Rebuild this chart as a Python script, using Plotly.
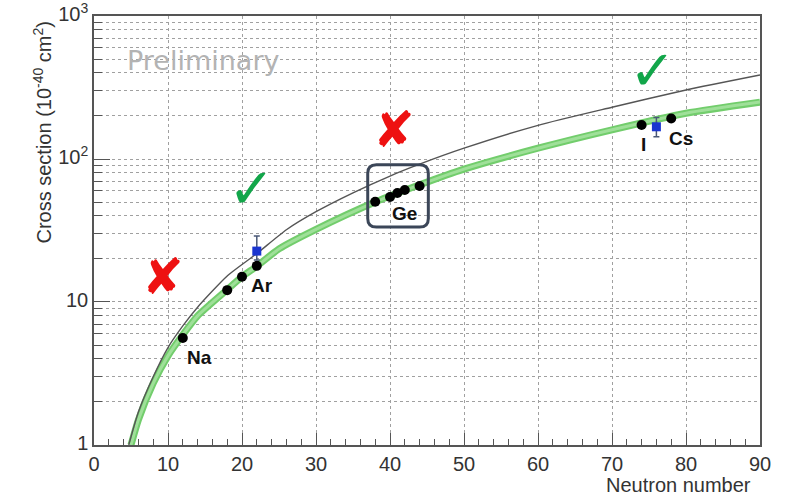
import math
import plotly.graph_objects as go

# ---------------- data ----------------
# theory curve (black line)
curve_n = [4.7, 6, 8, 10, 12, 14, 18, 22, 26, 30, 35, 40, 44, 50, 60, 70, 80, 90]
curve_xs = [1.0, 1.7, 3.0, 4.8, 6.8, 9.2, 15.2, 21.8, 32, 42.8, 58, 76, 92, 119, 172, 230, 304, 387]

# green band (central values)
band_n = [5.0, 6, 8, 10, 12, 14, 18, 20, 22, 25, 30, 38, 44, 50, 60, 70, 80, 90]
band_xs = [1.0, 1.5, 2.7, 4.2, 5.9, 8.0, 12.2, 15.0, 17.8, 23.5, 32.2, 50, 66, 85, 119, 160, 209, 250]

# black points (isotopes)
iso_n = [12, 18, 20, 22, 38, 40, 41, 42, 44, 74, 78]
iso_xs = [5.6, 12.1, 15.0, 17.9, 50.3, 54.2, 57.8, 60.7, 64.7, 173, 192]

# blue squares (measurements) with asymmetric errors
meas_n = [22, 76]
meas_xs = [22.7, 168]
meas_err_up = [6.3, 27]
meas_err_down = [3.0, 25]

# element labels
label_text = ["Na", "Ar", "Ge", "I", "Cs"]
label_n = [14.3, 22.7, 41.9, 74.3, 79.3]
label_xs = [4.12, 13.1, 41.9, 127, 140]

# axis ticks
y_tickvals = [1, 10, 100, 1000]
y_ticktext = ["1", "10", "10<sup>2</sup>", "10<sup>3</sup>"]
x_tickvals = [0, 10, 20, 30, 40, 50, 60, 70, 80, 90]

FONT = "Liberation Sans, Arial, Helvetica, sans-serif"

fig = go.Figure()

# green band: darker edge + lighter core
fig.add_trace(go.Scatter(x=band_n, y=band_xs, mode="lines",
                         line=dict(color="#72cd6c", width=7, shape="spline", smoothing=0.6),
                         hoverinfo="skip", showlegend=False))
fig.add_trace(go.Scatter(x=band_n, y=band_xs, mode="lines",
                         line=dict(color="#9fe099", width=3, shape="spline", smoothing=0.6),
                         hoverinfo="skip", showlegend=False))
# theory curve
fig.add_trace(go.Scatter(x=curve_n, y=curve_xs, mode="lines",
                         line=dict(color="#555555", width=1.4, shape="spline", smoothing=0.6),
                         showlegend=False))
# measurements
fig.add_trace(go.Scatter(x=meas_n, y=meas_xs, mode="markers",
                         marker=dict(symbol="square", size=9, color="#1a35d0"),
                         error_y=dict(type="data", symmetric=False, array=meas_err_up,
                                      arrayminus=meas_err_down, color="#4a5877",
                                      thickness=1.5, width=3),
                         showlegend=False))
# isotopes
fig.add_trace(go.Scatter(x=iso_n, y=iso_xs, mode="markers",
                         marker=dict(symbol="circle", size=10, color="black"),
                         showlegend=False))

annotations = []
for t, xn, yv in zip(label_text, label_n, label_xs):
    annotations.append(dict(x=xn, y=math.log10(yv), xref="x", yref="y", text=f"<b>{t}</b>",
                            xanchor="center", yanchor="middle",
                            showarrow=False, font=dict(family=FONT, size=19, color="#111111")))

# Preliminary
annotations.append(dict(x=0.164, y=0.897, xref="paper", yref="paper", text="Preliminary",
                        xanchor="center", yanchor="middle",
                        showarrow=False, font=dict(family="DejaVu Sans", size=27, color="#b3b3b3")))
# marks
marks = [("✘", 0.104, 0.391, "#ee1111", 50), ("✓", 0.237, 0.597, "#12a64a", 56),
         ("✘", 0.450, 0.734, "#ee1111", 50), ("✓", 0.838, 0.872, "#12a64a", 56)]
for sym, px, py, col, sz in marks:
    annotations.append(dict(x=px, y=py, xref="paper", yref="paper", text=sym, showarrow=False,
                            xanchor="center", yanchor="middle",
                            font=dict(family="DejaVu Sans", size=sz, color=col)))

# axis titles
annotations.append(dict(x=-0.077, y=0.73, xref="paper", yref="paper",
                        xanchor="center", yanchor="middle",
                        text="Cross section (10<sup>-40</sup> cm<sup>2</sup>)", textangle=-90,
                        showarrow=False, font=dict(family=FONT, size=20, color="#333333")))
annotations.append(dict(x=0.99, y=-0.093, xref="paper", yref="paper", xanchor="right",
                        yanchor="middle",
                        text="Neutron number", showarrow=False,
                        font=dict(family=FONT, size=20, color="#333333")))

# rounded box around Ge
x0, x1, y0, y1 = 0.411, 0.502, 0.508, 0.653
rx, ry = 0.013, 0.02
path = (f"M {x0+rx},{y0} L {x1-rx},{y0} Q {x1},{y0} {x1},{y0+ry} "
        f"L {x1},{y1-ry} Q {x1},{y1} {x1-rx},{y1} L {x0+rx},{y1} Q {x0},{y1} {x0},{y1-ry} "
        f"L {x0},{y0+ry} Q {x0},{y0} {x0+rx},{y0} Z")

fig.update_layout(
    width=789, height=496,
    margin=dict(l=94, r=29, t=16, b=51),
    paper_bgcolor="white", plot_bgcolor="white",
    font=dict(family=FONT, size=20, color="#333333"),
    annotations=annotations,
    shapes=[dict(type="path", path=path, xref="paper", yref="paper",
                 line=dict(color="#3b4658", width=3))],
    xaxis=dict(range=[0, 90], tickvals=x_tickvals, ticks="inside", ticklen=12, tickwidth=1.2,
               tickcolor="#555555", showline=True, linecolor="#555555", linewidth=1.5, mirror=True,
               showgrid=True, gridcolor="#a0a0a0", griddash="dot", gridwidth=1, zeroline=False,
               automargin=False,
               tickfont=dict(size=20, color="#333333"),
               minor=dict(dtick=2, ticks="inside", ticklen=6, tickcolor="#555555", showgrid=False)),
    yaxis=dict(type="log", range=[-0.0002, 3.0002], tickvals=y_tickvals, ticktext=y_ticktext,
               ticks="inside", ticklen=16, tickwidth=1.2, tickcolor="#555555",
               showline=True, linecolor="#555555", linewidth=1.5, mirror=True,
               showgrid=True, gridcolor="#a0a0a0", griddash="dot", gridwidth=1, zeroline=False,
               automargin=False, ticklabeloverflow="allow", ticklabelshift=-2,
               tickfont=dict(size=20, color="#333333"),
               minor=dict(dtick="D1", ticks="inside", ticklen=8, tickcolor="#555555",
                          showgrid=True, gridcolor="#a0a0a0", griddash="dot", gridwidth=1)),
)

fig.write_html("out.html", config={"displayModeBar": False},
               post_script="document.body.style.margin='0px';")
